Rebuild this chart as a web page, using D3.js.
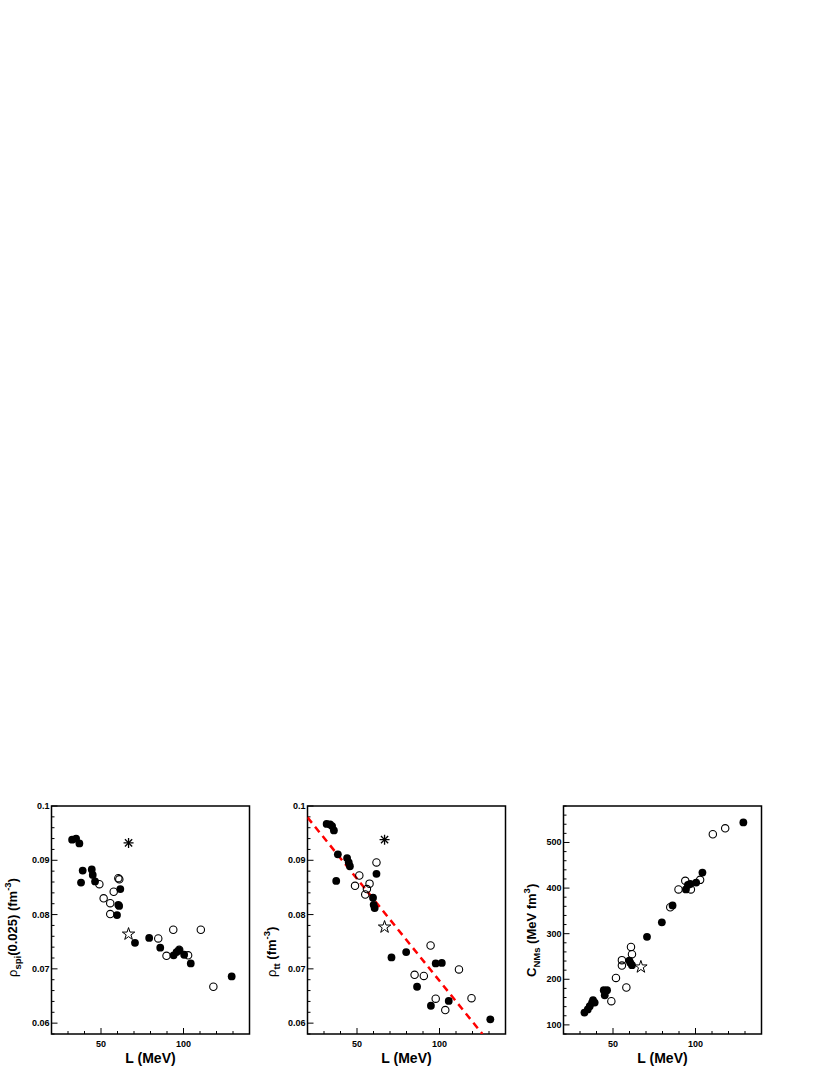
<!DOCTYPE html>
<html><head><meta charset="utf-8">
<script src="https://cdn.jsdelivr.net/npm/d3@7"></script>
<style>
html,body{margin:0;padding:0;background:#fff;}
text{font-family:"Liberation Sans",Arial,sans-serif;fill:#000;}
</style></head>
<body>
<svg id="chart" width="830" height="1075"></svg>
<script>
// ---------- data ----------
const xTickValues = [50, 100];
const xDomain = [20, 140];

// Panel 1: rho_spi(0.025)
const spiFilledL = [32.5, 34.9, 36.9, 38.9, 37.9, 44.4, 45.0, 46.4, 61.7, 60.5, 59.7, 61.0, 70.6, 79.2, 85.9, 94.0, 95.8, 97.4, 100.4, 104.4, 129.2];
const spiFilledV = [0.0938, 0.0940, 0.0931, 0.0881, 0.0859, 0.0883, 0.0873, 0.0861, 0.0847, 0.0818, 0.0799, 0.0816, 0.0748, 0.0757, 0.0739, 0.0725, 0.0731, 0.0734, 0.0726, 0.0710, 0.0686];
const spiOpenL = [49.0, 51.6, 55.6, 55.6, 57.7, 60.5, 61.1, 84.7, 89.7, 93.8, 97.4, 102.8, 110.5, 118.1];
const spiOpenV = [0.0856, 0.0830, 0.0821, 0.0801, 0.0842, 0.0867, 0.0865, 0.0756, 0.0724, 0.0772, 0.0735, 0.0725, 0.0772, 0.0667];
const spiAsterisk = [66.7, 0.0932];
const spiStar = [66.7, 0.0764];
const spiTicks = [0.06, 0.07, 0.08, 0.09, 0.1];
const spiDomain = [0.058, 0.1];

// Panel 2: rho_tt
const ttFilledL = [31.6, 33.7, 34.9, 36.0, 38.4, 37.4, 44.0, 45.0, 45.7, 59.7, 60.1, 60.7, 61.8, 70.9, 79.8, 86.4, 94.8, 97.7, 101.4, 105.6, 130.8];
const ttFilledV = [0.0967, 0.0966, 0.0963, 0.0955, 0.0911, 0.0862, 0.0904, 0.0896, 0.0889, 0.0831, 0.0818, 0.0812, 0.0875, 0.0721, 0.0731, 0.0667, 0.0632, 0.0710, 0.0711, 0.0641, 0.0607];
const ttOpenL = [48.8, 51.4, 55.0, 56.0, 57.6, 61.8, 84.9, 90.5, 94.6, 97.7, 103.5, 111.8, 119.4];
const ttOpenV = [0.0853, 0.0872, 0.0837, 0.0847, 0.0857, 0.0896, 0.0689, 0.0687, 0.0743, 0.0645, 0.0624, 0.0699, 0.0646];
const ttAsterisk = [66.7, 0.0938];
const ttStar = [66.7, 0.0777];
const ttFitL = [20, 126];
const ttFitV = [0.0979, 0.058];
const ttTicks = [0.06, 0.07, 0.08, 0.09, 0.1];
const ttDomain = [0.058, 0.1];

// Panel 3: C_NMs
const cFilledL = [32.7, 34.7, 35.9, 37.3, 37.9, 38.9, 44.4, 45.0, 46.4, 59.9, 60.5, 61.5, 70.6, 79.6, 86.1, 94.2, 95.4, 96.8, 100.4, 104.2, 129.0];
const cFilledV = [127, 134, 141, 149, 154, 149, 176, 165, 176, 241, 236, 231, 293, 325, 362, 397, 407, 409, 412, 434, 544];
const cOpenL = [49.0, 51.8, 55.4, 55.4, 58.1, 60.9, 61.5, 84.7, 89.7, 93.8, 97.2, 102.8, 110.5, 118.0];
const cOpenV = [152, 203, 242, 230, 182, 271, 255, 358, 397, 416, 397, 418, 518, 531];
const cStar = [66.9, 227];
const cTicks = [100, 200, 300, 400, 500];
const cDomain = [80, 580];

// ---------- drawing ----------
const svg = d3.select("#chart");
const frameTop = 806, frameBottom = 1034, frameW = 198;

function panel(opt) {
  const x = d3.scaleLinear().domain(xDomain).range([opt.left, opt.left + frameW]);
  const y = d3.scaleLinear().domain(opt.yDomain).range([frameBottom, frameTop]);
  const g = svg.append("g");

  const cid = "clip" + opt.id;
  svg.append("clipPath").attr("id", cid).append("rect")
    .attr("x", opt.left).attr("y", frameTop).attr("width", frameW).attr("height", frameBottom - frameTop);

  const xMinor = d3.range(20, 141, 10);
  g.selectAll(null).data(xMinor).join("line")
    .attr("x1", d => x(d)).attr("x2", d => x(d))
    .attr("y1", frameBottom).attr("y2", d => frameBottom - (xTickValues.includes(d) ? 6 : 3))
    .attr("stroke", "#000").attr("stroke-width", 1);
  g.selectAll(null).data(xTickValues).join("text")
    .attr("x", d => x(d)).attr("y", frameBottom + 13)
    .attr("text-anchor", "middle").style("font-size", "9px").style("font-weight", "bold").text(d => d);

  const [y0, y1] = opt.yDomain;
  const n = Math.round((y1 - y0) / opt.minorStep);
  const yMinor = d3.range(0, n + 1).map(i => y0 + i * opt.minorStep);
  const isMajor = v => opt.yTicks.some(t => Math.abs(t - v) < opt.minorStep * 0.1);
  g.selectAll(null).data(yMinor).join("line")
    .attr("x1", opt.left).attr("x2", d => opt.left + (isMajor(d) ? 6 : 3))
    .attr("y1", d => y(d)).attr("y2", d => y(d))
    .attr("stroke", "#000").attr("stroke-width", 1);
  g.selectAll(null).data(opt.yTicks).join("text")
    .attr("x", opt.left - 2).attr("y", d => y(d) + 3)
    .attr("text-anchor", "end").style("font-size", "9px").style("font-weight", "bold").text(opt.fmt);

  g.append("rect").attr("x", opt.left).attr("y", frameTop).attr("width", frameW).attr("height", frameBottom - frameTop)
    .attr("fill", "none").attr("stroke", "#000").attr("stroke-width", 1.5);

  const pg = svg.append("g").attr("clip-path", `url(#${cid})`);

  if (opt.fitL) {
    pg.append("path")
      .attr("d", d3.line()(opt.fitL.map((l, i) => [x(l), y(opt.fitV[i])])))
      .attr("stroke", "#ff0000").attr("stroke-width", 2.5).attr("stroke-dasharray", "7,5").attr("fill", "none");
  }
  pg.selectAll(null).data(opt.openL).join("circle")
    .attr("cx", d => x(d)).attr("cy", (d, i) => y(opt.openV[i])).attr("r", 3.7)
    .attr("fill", "none").attr("stroke", "#000").attr("stroke-width", 1.1);
  pg.selectAll(null).data(opt.filledL).join("circle")
    .attr("cx", d => x(d)).attr("cy", (d, i) => y(opt.filledV[i])).attr("r", 3.9)
    .attr("fill", "#000");
  if (opt.asterisk) {
    const ax = x(opt.asterisk[0]), ay = y(opt.asterisk[1]), s = 5, d = s * 0.72;
    const segs = [[-s,0,s,0],[0,-s,0,s],[-d,-d,d,d],[-d,d,d,-d]];
    pg.selectAll(null).data(segs).join("line")
      .attr("x1", v => ax + v[0]).attr("y1", v => ay + v[1])
      .attr("x2", v => ax + v[2]).attr("y2", v => ay + v[3])
      .attr("stroke", "#000").attr("stroke-width", 1.3);
  }
  if (opt.star) {
    pg.append("path")
      .attr("d", d3.symbol().type(d3.symbolStar).size(48)())
      .attr("transform", `translate(${x(opt.star[0])},${y(opt.star[1])})`)
      .attr("fill", "none").attr("stroke", "#000").attr("stroke-width", 1);
  }

  svg.append("text").attr("x", opt.left + frameW / 2).attr("y", 1063)
    .attr("text-anchor", "middle").style("font-size", "14px").style("font-weight", "bold").text("L (MeV)");

  const t = svg.append("text")
    .attr("transform", `translate(${opt.titleX},977) rotate(-90)`)
    .attr("text-anchor", "start").style("font-size", "13px")
    .style("font-weight", "bold");
  opt.title(t);
}

panel({
  id: 1, left: 51.5, yDomain: spiDomain, yTicks: spiTicks, minorStep: 0.002,
  fmt: d => d === 0.1 ? "0.1" : d.toFixed(2),
  filledL: spiFilledL, filledV: spiFilledV, openL: spiOpenL, openV: spiOpenV,
  asterisk: spiAsterisk, star: spiStar, titleX: 17,
  title: t => {
    t.append("tspan").style("font-weight", "normal").text("ρ");
    t.append("tspan").style("font-size", "9.5px").attr("dy", 4).text("spi");
    t.append("tspan").attr("dy", -4).text("(0.025) (fm");
    t.append("tspan").style("font-size", "9.5px").attr("dy", -6).text("-3");
    t.append("tspan").attr("dy", 6).text(")");
  }
});
panel({
  id: 2, left: 307.5, yDomain: ttDomain, yTicks: ttTicks, minorStep: 0.002,
  fmt: d => d === 0.1 ? "0.1" : d.toFixed(2),
  filledL: ttFilledL, filledV: ttFilledV, openL: ttOpenL, openV: ttOpenV,
  asterisk: ttAsterisk, star: ttStar, fitL: ttFitL, fitV: ttFitV, titleX: 276,
  title: t => {
    t.append("tspan").style("font-weight", "normal").text("ρ");
    t.append("tspan").style("font-size", "9.5px").attr("dy", 4).text("tt");
    t.append("tspan").attr("dy", -4).text(" (fm");
    t.append("tspan").style("font-size", "9.5px").attr("dy", -6).text("-3");
    t.append("tspan").attr("dy", 6).text(")");
  }
});
panel({
  id: 3, left: 563.5, yDomain: cDomain, yTicks: cTicks, minorStep: 20,
  fmt: d => d,
  filledL: cFilledL, filledV: cFilledV, openL: cOpenL, openV: cOpenV,
  star: cStar, titleX: 536,
  title: t => {
    t.append("tspan").text("C");
    t.append("tspan").style("font-size", "9.5px").attr("dy", 4).text("NMs");
    t.append("tspan").attr("dy", -4).text(" (MeV fm");
    t.append("tspan").style("font-size", "9.5px").attr("dy", -6).text("3");
    t.append("tspan").attr("dy", 6).text(")");
  }
});
</script>
</body></html>
